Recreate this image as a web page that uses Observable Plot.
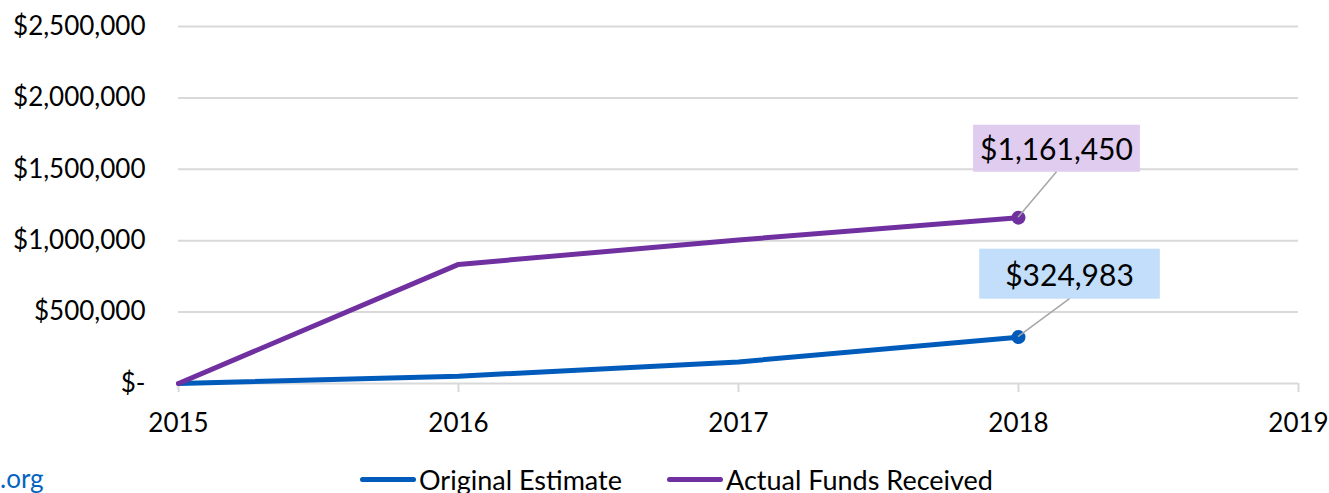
<!DOCTYPE html>
<html>
<head>
<meta charset="utf-8">
<script src="https://cdn.jsdelivr.net/npm/d3@7"></script>
<script src="https://cdn.jsdelivr.net/npm/@observablehq/plot@0.6"></script>
<style>
  html, body { margin: 0; padding: 0; background: #fff; }
  body { width: 1329px; height: 493px; overflow: hidden; font-family: Lato, "Open Sans", sans-serif; }
  #wrap { position: relative; width: 1329px; }
  #legend { position: relative; height: 38px; font-size: 27px; color: #000; }
  .item { position: absolute; top: 5px; display: flex; align-items: center; height: 38px; }
  .sw { width: 56px; height: 5px; border-radius: 3px; margin-right: 3px; }
  #org { position: absolute; left: 0; top: 4px; height: 38px; line-height: 38px; color: #0563C1; font-size: 26px; }
</style>
</head>
<body>
<div id="wrap">
  <div id="chart"></div>
  <div id="legend"></div>
</div>
<script>
const years = [2015, 2016, 2017, 2018];
const originalEstimate = [0, 51000, 151000, 324983];
const actualFunds = [0, 834000, 1005000, 1161450];
const seriesNames = ["Original Estimate", "Actual Funds Received"];
const seriesColors = ["#005BBB", "#7030A0"];
const labelFills = ["#C2DEFA", "#E0CCEE"];
const xTicks = [2015, 2016, 2017, 2018, 2019];
const yTicks = [0, 500000, 1000000, 1500000, 2000000, 2500000];
const sourceText = ".org";

const rows = [];
years.forEach((yr, i) => {
  rows.push({year: yr, value: originalEstimate[i], series: seriesNames[0]});
  rows.push({year: yr, value: actualFunds[i], series: seriesNames[1]});
});
const last = seriesNames.map((s, k) => rows.filter(r => r.series === s).slice(-1)[0]);

const money = d => d === 0 ? "$-" : "$" + d3.format(",")(d);
const labelOffsets = [{dx: 51, dy: -61, padX: 26, boxH: 50}, {dx: 38, dy: -67, padX: 7, boxH: 47}];

const plot = Plot.plot({
  width: 1329,
  height: 455,
  marginLeft: 178,
  marginRight: 31,
  marginTop: 26,
  marginBottom: 72,
  style: {fontFamily: "Lato, 'Open Sans', sans-serif", fontSize: "26px", color: "#000", background: "#fff"},
  x: {domain: [2015, 2019], label: null},
  y: {domain: [0, 2500000], label: null},
  color: {domain: seriesNames, range: seriesColors},
  marks: [
    Plot.gridY(yTicks, {stroke: "#d9d9d9", strokeOpacity: 1, strokeWidth: 2}),
    Plot.axisY(yTicks, {tickSize: 0, tickPadding: 33, tickFormat: money, fontSize: 26, label: null}),
    Plot.axisX(xTicks, {tickSize: 9, tickPadding: 21, stroke: "#d9d9d9", strokeWidth: 2, tickFormat: d => String(d), fontSize: 26, label: null}),
    Plot.line(rows, {x: "year", y: "value", z: "series", stroke: "series", strokeWidth: 5}),
    Plot.dot(last, {x: "year", y: "value", fill: "series", r: 7}),
    ...last.map((d, k) => Plot.text([d], {x: "year", y: "value", text: d => "$" + d3.format(",")(d.value),
      dx: labelOffsets[k].dx, dy: labelOffsets[k].dy, fontSize: 30, fill: "#000", className: "lbl" + k}))
  ]
});
document.getElementById("chart").appendChild(plot);

// label boxes and leader lines
const sx = plot.scale("x"), sy = plot.scale("y");
const NS = "http://www.w3.org/2000/svg";
const svgBox = plot.getBoundingClientRect();
last.forEach((d, k) => {
  const g = plot.querySelector(".lbl" + k);
  if (!g) return;
  const t = g.querySelector("text");
  const r = t.getBoundingClientRect();
  const bx = r.left - svgBox.left, bw = r.width;
  const padX = labelOffsets[k].padX;
  const boxH = labelOffsets[k].boxH;
  const cx = bx + bw / 2, cy = r.top - svgBox.top + r.height / 2;
  const rect = document.createElementNS(NS, "rect");
  rect.setAttribute("x", bx - padX);
  rect.setAttribute("y", cy - boxH / 2);
  rect.setAttribute("width", bw + 2 * padX);
  rect.setAttribute("height", boxH);
  rect.setAttribute("fill", labelFills[k]);
  g.parentNode.insertBefore(rect, g);
  const px = sx.apply(d.year), py = sy.apply(d.value);
  const line = document.createElementNS(NS, "line");
  line.setAttribute("x1", px); line.setAttribute("y1", py);
  line.setAttribute("x2", cx); line.setAttribute("y2", cy + boxH / 2);
  line.setAttribute("stroke", "#a6a6a6"); line.setAttribute("stroke-width", 1.5);
  g.parentNode.insertBefore(line, g);
});

// legend
const legend = document.getElementById("legend");
const org = document.createElement("div");
org.id = "org"; org.textContent = sourceText;
legend.appendChild(org);
const legendLeft = [360, 667];
seriesNames.forEach((s, k) => {
  const it = document.createElement("div");
  it.className = "item";
  it.style.left = legendLeft[k] + "px";
  const sw = document.createElement("div");
  sw.className = "sw"; sw.style.background = seriesColors[k];
  const tx = document.createElement("span");
  tx.textContent = s;
  it.appendChild(sw); it.appendChild(tx);
  legend.appendChild(it);
});
</script>
</body>
</html>
